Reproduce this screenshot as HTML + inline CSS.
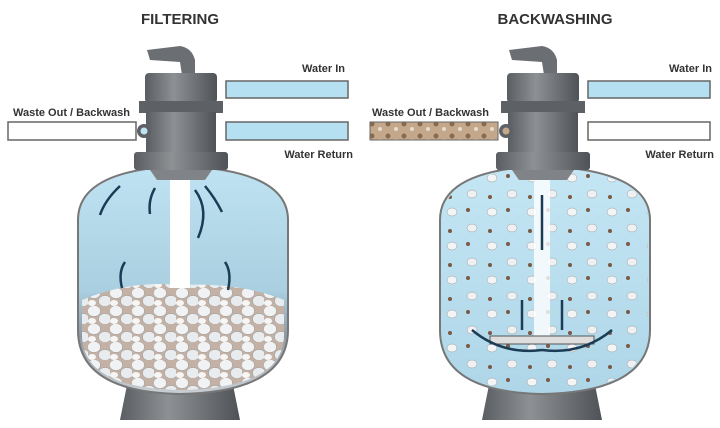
<!DOCTYPE html><html><head><style>body{margin:0;background:#fff}svg{display:block}text{font-family:"Liberation Sans",sans-serif;font-weight:bold;fill:#333}</style></head><body>
<svg width="720" height="428" viewBox="0 0 720 428">
<defs>
<linearGradient id="w" x1="0" y1="0" x2="0" y2="1"><stop offset="0" stop-color="#bfe3f2"/><stop offset=".55" stop-color="#a9cfe0"/><stop offset=".75" stop-color="#8f9aa3"/><stop offset="1" stop-color="#c9cfd4"/></linearGradient>
<linearGradient id="w2" x1="0" y1="0" x2="0" y2="1"><stop offset="0" stop-color="#c4e6f4"/><stop offset="1" stop-color="#aed6e8"/></linearGradient>
<linearGradient id="g" x1="0" y1="0" x2="1" y2="0"><stop offset="0" stop-color="#5a5e62"/><stop offset=".4" stop-color="#8d9194"/><stop offset="1" stop-color="#4f5357"/></linearGradient>
<pattern id="rk" width="22" height="18" patternUnits="userSpaceOnUse"><rect width="22" height="18" fill="#c2b1a4"/><ellipse cx="6" cy="5" rx="6.5" ry="5.5" fill="#f0f2f4" stroke="#999" stroke-width=".5"/><ellipse cx="17" cy="13" rx="6.5" ry="5.5" fill="#e8ecee" stroke="#999" stroke-width=".5"/><ellipse cx="4" cy="15" rx="4" ry="3" fill="#f6f6f6"/></pattern>
<pattern id="bw" width="16" height="12" patternUnits="userSpaceOnUse"><rect width="16" height="12" fill="#c4a88c"/><circle cx="4" cy="4" r="2.5" fill="#8a6a4c"/><circle cx="12" cy="9" r="2" fill="#e8dccc"/></pattern>
<pattern id="fl" width="40" height="34" patternUnits="userSpaceOnUse"><ellipse cx="10" cy="8" rx="5" ry="4" fill="#f2f4f5" stroke="#999" stroke-width=".5"/><ellipse cx="30" cy="24" rx="5" ry="4" fill="#eef0f2" stroke="#999" stroke-width=".5"/><circle cx="26" cy="6" r="2" fill="#7a5a44"/><circle cx="8" cy="27" r="2" fill="#7a5a44"/></pattern>
<g id="valve">
<path d="M147 50 L180 46 Q192 48 195 60 L195 75 L182 75 L180 62 L150 60 Z" fill="#6b6f73"/>
<rect x="145" y="73" width="72" height="30" rx="4" fill="url(#g)"/>
<rect x="139" y="101" width="84" height="12" fill="#5d6165"/>
<rect x="146" y="112" width="70" height="42" fill="url(#g)"/>
<rect x="134" y="152" width="94" height="18" rx="3" fill="url(#g)"/>
<path d="M150 170 L212 170 L205 180 L157 180 Z" fill="#808488"/>
</g>
<path id="base" d="M130 370 L230 370 L240 420 L120 420 Z" fill="url(#g)"/>
</defs>

<text x="180" y="24" text-anchor="middle" font-size="15" fill="#222">FILTERING</text>
<text x="555" y="24" text-anchor="middle" font-size="15" fill="#222">BACKWASHING</text>

<use href="#base"/>
<path d="M78 220 Q78 170 180 166 Q288 170 288 220 L288 330 Q288 392 180 394 Q78 392 78 330 Z" fill="url(#w)" stroke="#777" stroke-width="2"/>
<path d="M82 300 Q130 280 180 285 Q240 282 284 300 L284 335 Q284 388 180 390 Q82 388 82 335 Z" fill="url(#rk)"/>
<rect x="170" y="178" width="20" height="110" fill="#fff"/>
<g fill="none" stroke="#1c3c56" stroke-width="2.5">
<path d="M120 186 Q105 200 100 215"/><path d="M155 188 Q148 200 150 214"/><path d="M205 186 Q215 198 222 212"/><path d="M195 190 Q210 210 198 238"/><path d="M125 262 Q118 272 122 288"/><path d="M225 262 Q232 272 228 290"/>
</g>
<use href="#valve"/>
<rect x="8" y="122" width="128" height="18" fill="#fff" stroke="#666" stroke-width="1.5"/>
<circle cx="144" cy="131" r="7" fill="#5d6165"/><circle cx="144" cy="131" r="3.5" fill="#bfe3f2"/>
<rect x="226" y="81" width="122" height="17" fill="#b5e0f2" stroke="#666" stroke-width="1.5"/>
<rect x="226" y="122" width="122" height="18" fill="#b5e0f2" stroke="#666" stroke-width="1.5"/>
<text x="345" y="72" text-anchor="end" font-size="11">Water In</text>
<text x="13" y="116" font-size="11">Waste Out / Backwash</text>
<text x="353" y="158" text-anchor="end" font-size="11">Water Return</text>

<g transform="translate(362,0)">
<use href="#base"/>
<path d="M78 220 Q78 170 180 166 Q288 170 288 220 L288 330 Q288 392 180 394 Q78 392 78 330 Z" fill="url(#w2)" stroke="#777" stroke-width="2"/>
<path d="M80 220 Q80 172 180 168 Q286 172 286 220 L286 330 Q286 390 180 392 Q80 390 80 330 Z" fill="url(#fl)"/>
<rect x="172" y="178" width="16" height="160" fill="#fff" opacity=".8"/>
<rect x="128" y="336" width="104" height="8" fill="#ddd" stroke="#555"/>
<g fill="none" stroke="#1c3c56" stroke-width="2.5">
<path d="M180 350 Q140 355 110 330"/><path d="M180 350 Q220 355 250 330"/><path d="M160 330 L160 300"/><path d="M200 330 L200 300"/><path d="M180 250 L180 195"/>
</g>
<use href="#valve"/>
</g>
<rect x="370" y="122" width="128" height="18" fill="url(#bw)" stroke="#666" stroke-width="1"/>
<circle cx="506" cy="131" r="7" fill="#5d6165"/><circle cx="506" cy="131" r="3.5" fill="#c4a88c"/>
<rect x="588" y="81" width="122" height="17" fill="#b5e0f2" stroke="#666" stroke-width="1.5"/>
<rect x="588" y="122" width="122" height="18" fill="#fff" stroke="#666" stroke-width="1.5"/>
<text x="712" y="72" text-anchor="end" font-size="11">Water In</text>
<text x="372" y="116" font-size="11">Waste Out / Backwash</text>
<text x="714" y="158" text-anchor="end" font-size="11">Water Return</text>
</svg>
</body></html>
